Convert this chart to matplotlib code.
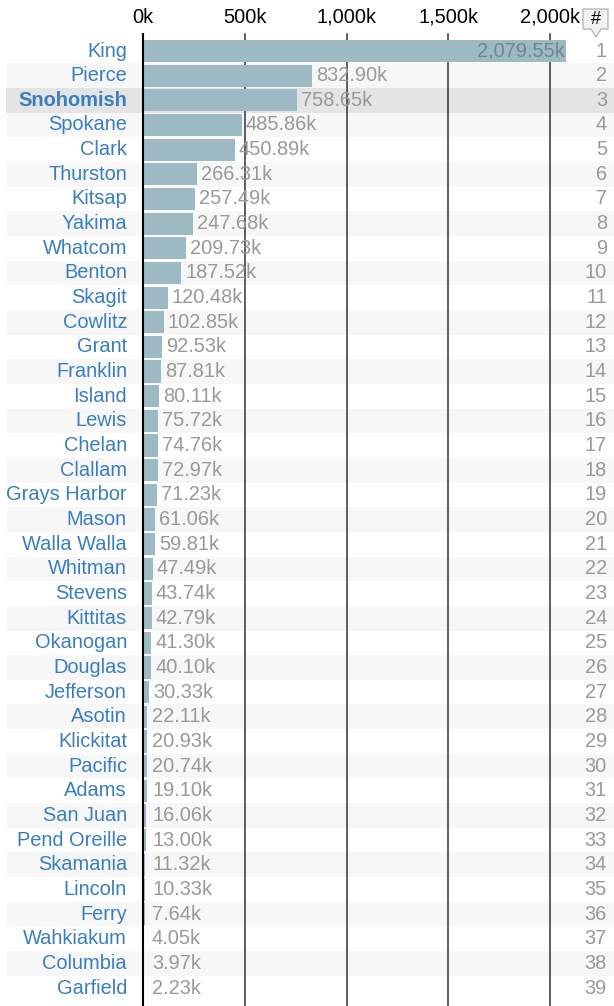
import matplotlib
matplotlib.use("Agg")
import matplotlib.pyplot as plt
from matplotlib.patches import Rectangle, Polygon

plt.rcParams['font.family'] = ['Liberation Sans', 'DejaVu Sans']

counties = ["King", "Pierce", "Snohomish", "Spokane", "Clark", "Thurston", "Kitsap",
            "Yakima", "Whatcom", "Benton", "Skagit", "Cowlitz", "Grant", "Franklin",
            "Island", "Lewis", "Chelan", "Clallam", "Grays Harbor", "Mason",
            "Walla Walla", "Whitman", "Stevens", "Kittitas", "Okanogan", "Douglas",
            "Jefferson", "Asotin", "Klickitat", "Pacific", "Adams", "San Juan",
            "Pend Oreille", "Skamania", "Lincoln", "Ferry", "Wahkiakum", "Columbia",
            "Garfield"]
values_k = [2079.55, 832.90, 758.65, 485.86, 450.89, 266.31, 257.49, 247.68, 209.73,
            187.52, 120.48, 102.85, 92.53, 87.81, 80.11, 75.72, 74.76, 72.97, 71.23,
            61.06, 59.81, 47.49, 43.74, 42.79, 41.30, 40.10, 30.33, 22.11, 20.93,
            20.74, 19.10, 16.06, 13.00, 11.32, 10.33, 7.64, 4.05, 3.97, 2.23]
ticks_k = [0, 500, 1000, 1500, 2000]
highlight = "Snohomish"

W, H = 614, 1006
X0_PX = 143.0          # pixel of 0k
SCALE = 407.0 / 2000   # pixels per k
ROW0_PX = 51.0
ROW_H = 24.66
FS = 14.4


def px2x(p):
    return (p - X0_PX) / SCALE


def px2y(p):
    return (p - ROW0_PX) / ROW_H


fig = plt.figure(figsize=(W / 100, H / 100), dpi=100)
ax = fig.add_axes([0, 0, 1, 1])
ax.set_xlim(px2x(0), px2x(W))
ax.set_ylim(px2y(H), px2y(0))
ax.axis('off')

n = len(counties)
for i, name in enumerate(counties):
    if name == highlight:
        ax.add_patch(Rectangle((px2x(6), i - 0.5), px2x(W) - px2x(6), 1,
                               color='#e4e4e4', zorder=0, lw=0))
    elif i % 2 == 1:
        ax.add_patch(Rectangle((px2x(7), i - 0.5), px2x(W) - px2x(7), 1,
                               color='#f7f7f7', zorder=0, lw=0))

# grid lines + tick labels
for t in ticks_k:
    if t != 0:
        ax.plot([t, t], [px2y(34), px2y(H)], color='#333333', lw=1.1, zorder=1)
    ax.text(t, px2y(17), f"{t:,}k", ha='center', va='center', fontsize=FS, color='black')

ax.barh(range(n), values_k, height=0.9, left=0, color='#9dbac4', zorder=2)
ax.plot([0, 0], [px2y(34), px2y(H)], color='black', lw=1.5, zorder=4)

min_lab = px2x(152)
for i, (name, v) in enumerate(zip(counties, values_k)):
    bold = name == highlight
    ax.text(px2x(127), i, name, ha='right', va='center', fontsize=FS,
            color='#3a7ebf', fontweight='bold' if bold else 'normal', zorder=5)
    lab = f"{v:,.2f}k"
    if v > 1500:
        ax.text(v - 1 / SCALE, i, lab, ha='right', va='center', fontsize=FS,
                color='#6e878f', zorder=5)
    else:
        ax.text(max(v + 4 / SCALE, min_lab), i, lab, ha='left', va='center',
                fontsize=FS, color='#999999', zorder=5)
    ax.text(px2x(607), i, str(i + 1), ha='right', va='center', fontsize=FS,
            color='#999999', zorder=5)

# rank header box with pointer
ax.add_patch(Polygon([(px2x(583), px2y(9)), (px2x(608), px2y(9)), (px2x(608), px2y(29)),
                      (px2x(601), px2y(29)), (px2x(596), px2y(37)), (px2x(591), px2y(29)),
                      (px2x(583), px2y(29))], closed=True, facecolor='#f2f2f2',
                     edgecolor='#aaaaaa', lw=0.8, zorder=5))
ax.text(px2x(596), px2y(19), "#", ha='center', va='center', fontsize=13,
        color='black', zorder=6)

fig.savefig("out.png", dpi=100)
